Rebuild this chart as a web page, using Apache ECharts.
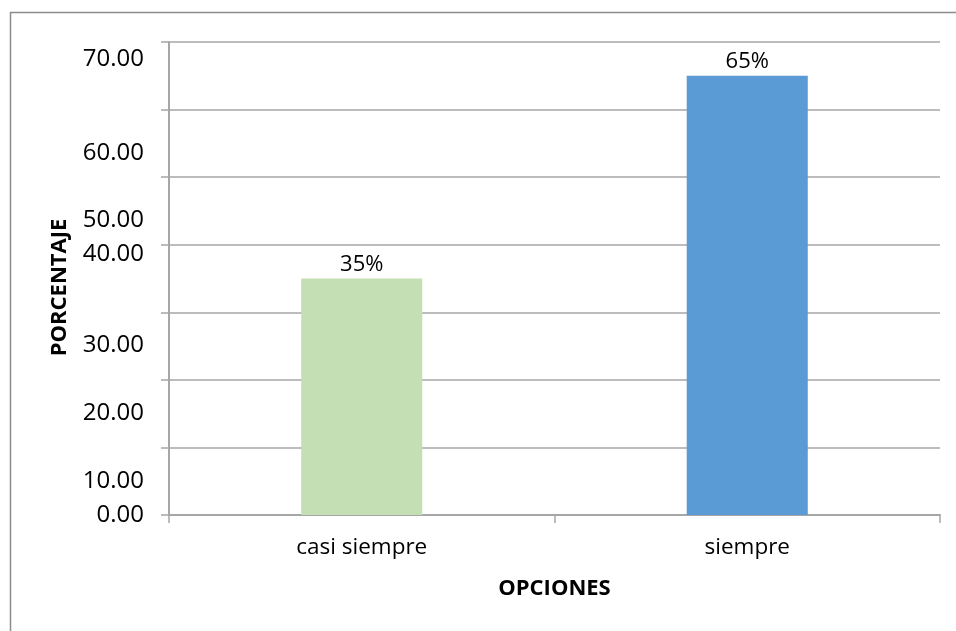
<!DOCTYPE html>
<html>
<head>
<meta charset="utf-8">
<script src="https://cdn.jsdelivr.net/npm/echarts@6/dist/echarts.min.js"></script>
<style>
html,body{margin:0;padding:0;background:#fff;}
#chart{width:956px;height:631px;}
</style>
</head>
<body>
<div id="chart"></div>
<script>
// Data
var categories = ['casi siempre', 'siempre'];
var values = [35, 65];
var barColors = ['#C4DFB4', '#5B9BD5'];
// Tick labels as shown in the reference (they sit at irregular heights)
var tickLabels = ['0.00', '10.00', '20.00', '30.00', '40.00', '50.00', '60.00', '70.00'];
var tickLabelPos = [0, 5.03, 15.10, 25.16, 38.63, 43.66, 53.57, 67.41];

var FONT = '"Open Sans", sans-serif';
var GRAY = '#a6a6a6';

var chart = echarts.init(document.getElementById('chart'), null, {renderer: 'canvas'});
chart.setOption({
  animation: false,
  backgroundColor: '#fff',
  graphic: [{
    type: 'rect',
    shape: {x: 10.5, y: 12.5, width: 1200, height: 900},
    style: {fill: 'none', stroke: '#8c8c8c', lineWidth: 1.5},
    silent: true
  }],
  grid: {left: 169, right: 16, top: 42, bottom: 116, containLabel: false},
  xAxis: {
    type: 'category',
    data: categories,
    boundaryGap: true,
    axisLine: {show: true, lineStyle: {color: GRAY, width: 2}},
    axisTick: {show: true, length: 8, alignWithLabel: false, lineStyle: {color: GRAY, width: 1.5}},
    axisLabel: {color: '#000', fontSize: 22.5, fontFamily: FONT, margin: 21},
    name: 'OPCIONES',
    nameLocation: 'middle',
    nameGap: 63,
    nameTextStyle: {color: '#000', fontSize: 22, fontWeight: 'bold', fontFamily: FONT}
  },
  yAxis: [{
    type: 'value',
    min: 0, max: 70, interval: 10,
    axisLine: {show: true, lineStyle: {color: GRAY, width: 2}},
    axisTick: {show: true, length: 8, lineStyle: {color: GRAY, width: 1.5}},
    splitLine: {show: true, lineStyle: {color: GRAY, width: 1.5}},
    axisLabel: {show: false},
    name: 'PORCENTAJE',
    nameLocation: 'middle',
    nameRotate: 90,
    nameGap: 98,
    nameTextStyle: {color: '#000', fontSize: 22, fontWeight: 'bold', fontFamily: FONT, padding: [0, 18, 0, 0]}
  }, {
    type: 'value',
    position: 'left',
    min: 0, max: 70,
    axisLine: {show: false},
    axisTick: {show: false},
    splitLine: {show: false},
    axisLabel: {
      show: true,
      customValues: tickLabelPos,
      margin: 25,
      color: '#000', fontSize: 24, fontFamily: FONT,
      formatter: function (v) {
        var best = 0, bd = Infinity;
        for (var i = 0; i < tickLabelPos.length; i++) {
          var d = Math.abs(tickLabelPos[i] - v);
          if (d < bd) { bd = d; best = i; }
        }
        return tickLabels[best];
      }
    }
  }],
  series: [{
    type: 'bar',
    yAxisIndex: 0,
    barWidth: '31.4%',
    data: values.map(function (v, i) {
      return {value: v, itemStyle: {color: barColors[i]}};
    }),
    label: {
      show: true,
      position: 'top',
      distance: 3,
      formatter: '{c}%',
      color: '#000', fontSize: 22, fontFamily: FONT
    }
  }]
});
</script>
</body>
</html>
